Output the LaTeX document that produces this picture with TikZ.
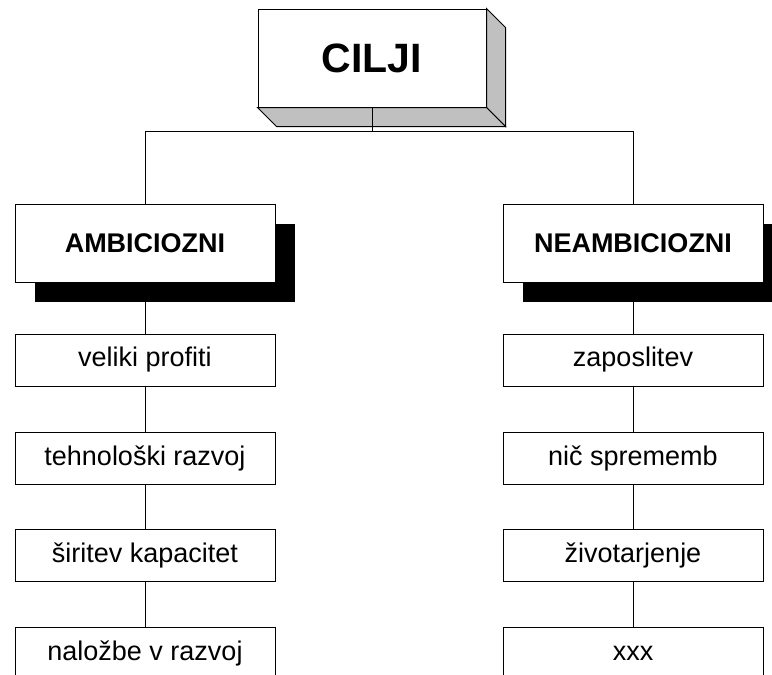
\documentclass[tikz,border=0pt]{standalone}
\usepackage{fontspec}
\setmainfont{Liberation Sans}
\usetikzlibrary{shadows}
\definecolor{sidegray}{RGB}{192,192,192}
\pgfdeclarelayer{background}
\pgfsetlayers{background,main}
\begin{document}
\begin{tikzpicture}[x=1pt,y=-1pt,
  every node/.style={inner sep=0pt, font=\fontsize{27}{32}\selectfont},
  goalbox/.style={draw, line width=1pt, fill=white, minimum width=228pt, minimum height=98pt,
    font=\fontsize{41}{48}\selectfont\bfseries},
  catbox/.style={draw, line width=1pt, fill=white, minimum width=260pt, minimum height=78pt,
    font=\fontsize{27}{32}\selectfont\bfseries,
    general shadow={fill=black, shadow xshift=20pt, shadow yshift=-20pt}},
  itembox/.style={draw, line width=1pt, fill=white, minimum width=260pt, minimum height=52pt},
  link/.style={line width=1pt}]
\useasboundingbox (0,0) rectangle (772,675);

% main goal with extruded sides
\node[goalbox] (goal) at (372,58) {CILJI};
\filldraw[fill=sidegray, line width=1pt]
  (goal.north east) -- ([shift={(19,19)}]goal.north east)
  -- ([shift={(19,19)}]goal.south east) -- (goal.south east) -- cycle;
\filldraw[fill=sidegray, line width=1pt]
  (goal.south west) -- (goal.south east)
  -- ([shift={(19,19)}]goal.south east) -- ([shift={(19,19)}]goal.south west) -- cycle;

% categories
\node[catbox] (amb) at (145,243) {AMBICIOZNI};
\node[catbox] (neamb) at (633,243) {NEAMBICIOZNI};

% left column
\node[itembox] (l1) at (145,360) {veliki profiti};
\node[itembox] (l2) at (145,458) {tehnološki razvoj};
\node[itembox] (l3) at (145,555) {širitev kapacitet};
\node[itembox] (l4) at (145,653) {naložbe v razvoj};

% right column
\node[itembox] (r1) at (633,360) {zaposlitev};
\node[itembox] (r2) at (633,458) {nič sprememb};
\node[itembox] (r3) at (633,555) {životarjenje};
\node[itembox] (r4) at (633,653) {xxx};

% branching from the goal
\coordinate (bus) at (372,131);
\draw[link] (goal.south) -- (bus) -| (amb.north);
\draw[link] (bus) -| (neamb.north);

% chains below the categories
\begin{pgfonlayer}{background}
\draw[link] (amb.south) -- (l1.north);
\draw[link] (l1) -- (l2);
\draw[link] (l2) -- (l3);
\draw[link] (l3) -- (l4);
\draw[link] (neamb.south) -- (r1.north);
\draw[link] (r1) -- (r2);
\draw[link] (r2) -- (r3);
\draw[link] (r3) -- (r4);
\end{pgfonlayer}
\end{tikzpicture}
\end{document}
